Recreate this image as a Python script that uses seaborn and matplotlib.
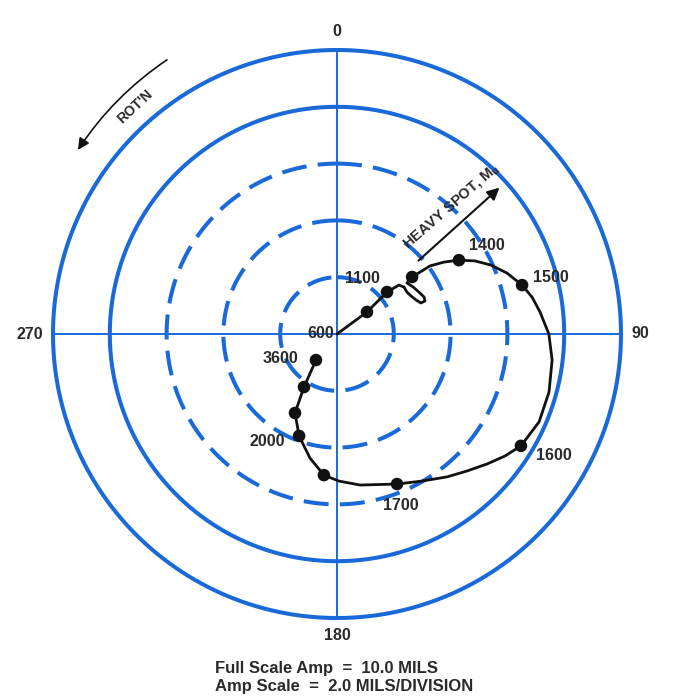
import numpy as np
import pandas as pd
import matplotlib
matplotlib.use("Agg")
import matplotlib.pyplot as plt
import seaborn as sns

# Rotor unbalance response: vibration vector (amplitude in mils, phase in degrees)
# traced from 600 rpm up to 3600 rpm.
trace_amp = [0.00, 1.31, 2.30, 2.78, 2.88, 2.87, 2.93, 3.03, 3.15, 3.31, 3.33,
             3.24, 3.15, 3.05, 3.32,
             4.06, 4.54, 5.02, 5.50, 5.94, 6.36, 6.74, 6.99, 7.19, 7.46, 7.63,
             7.74, 7.76, 7.58, 7.31, 6.99, 6.65, 6.35, 5.98, 5.69, 5.38, 5.18,
             4.99, 4.47, 3.83, 3.15, 2.20, 1.18]
trace_phase = [0.0, 53.7, 50.0, 51.7, 55.0, 59.0, 62.8, 66.7, 69.7, 69.4, 67.0,
               62.9, 58.3, 53.9, 52.8,
               53.8, 56.1, 58.8, 62.1, 65.9, 70.3, 75.2, 79.3, 83.8, 90.0, 96.9,
               105.3, 113.5, 121.3, 126.0, 130.9, 136.5, 142.4, 150.0, 158.2, 171.3, 179.2,
               185.3, 192.3, 200.4, 208.0, 211.9, 218.9]

# Speeds at which a reading was taken (dots)
marker_amp = [1.31, 2.30, 3.32, 5.02, 6.74, 7.58, 5.69, 4.99, 3.83, 3.15, 2.20, 1.18]
marker_phase = [53.7, 50.0, 52.8, 58.8, 75.2, 121.3, 158.2, 185.3, 200.4, 208.0, 211.9, 218.9]

# Speed annotations (rpm)
speed_labels = ["600", "1100", "1400", "1500", "1600", "1700", "2000", "3600"]
label_amp = [0.00, 2.30, 5.02, 6.74, 7.58, 5.69, 3.83, 1.18]
label_phase = [0.0, 50.0, 58.8, 75.2, 121.3, 158.2, 200.4, 218.9]

# Polar grid: amplitude rings (mils) and angle ticks (degrees)
ring_values = [2, 4, 6, 8, 10]
angle_ticks = [0, 90, 180, 270]
angle_tick_labels = ["0", "90", "180", "270"]

# Heavy spot direction (degrees)
heavy_spot_phase = 48.0

footer_lines = ["Full Scale Amp  =  10.0 MILS", "Amp Scale  =  2.0 MILS/DIVISION"]

# ---------------------------------------------------------------------------
sns.set_theme(style="white")
plt.rcParams["font.family"] = ["Liberation Sans", "DejaVu Sans"]

BLUE = "#1a69d9"
INK = "#111111"
TEXT = "#2a2a2a"

fig = plt.figure(figsize=(6.96, 6.97), dpi=100)
fig.patch.set_facecolor("white")
ax = fig.add_axes([53 / 696, 79 / 697, 568 / 696, 568 / 697], projection="polar")
ax.set_theta_zero_location("N")
ax.set_theta_direction(-1)
ax.grid(False)
ax.spines["polar"].set_visible(False)
ax.set_facecolor("white")

# amplitude rings: inner three dashed, outer two solid
theta_full = np.linspace(0, 2 * np.pi, 721)
for rv in ring_values:
    ls = (0, (6.2, 2.8)) if rv < 8 else "-"
    ax.plot(theta_full, np.full_like(theta_full, rv), color=BLUE,
            lw=2.9, ls=ls, solid_capstyle="butt", dash_capstyle="butt",
            clip_on=False, zorder=2)

# cross hairs
for a in angle_ticks:
    ax.plot([np.deg2rad(a), np.deg2rad(a)], [0, ring_values[-1]], color=BLUE,
            lw=1.4, clip_on=False, zorder=2)

# angle labels
rmax = ring_values[-1]
align = {0: ("center", "bottom", 10.38), 90: ("left", "center", 10.38),
         180: ("center", "top", 10.34), 270: ("right", "center", 10.34)}
for a, lab in zip(angle_ticks, angle_tick_labels):
    ha, va, rr = align[a]
    ax.text(np.deg2rad(a), rr, lab, ha=ha, va=va, fontsize=11.5,
            fontweight="bold", color=TEXT)

# response trace and measurement points
df_trace = pd.DataFrame({"theta": np.deg2rad(trace_phase), "amp": trace_amp})
df_pts = pd.DataFrame({"theta": np.deg2rad(marker_phase), "amp": marker_amp})
sns.lineplot(data=df_trace, x="theta", y="amp", sort=False, estimator=None,
             ax=ax, color=INK, lw=2.0, zorder=5)
sns.scatterplot(data=df_pts, x="theta", y="amp", ax=ax, color=INK, s=82,
                edgecolor="none", linewidth=0, zorder=6)

label_offsets_px = [(-16, 1), (-25, 14), (28, 15), (29, 8), (33, -10),
                    (4, -21), (-32, -6), (-36, 2)]
for lab, r, p, off in zip(speed_labels, label_amp, label_phase, label_offsets_px):
    ax.annotate(lab, xy=(np.deg2rad(p), r), xytext=off, textcoords="offset pixels",
                ha="center", va="center", fontsize=11.5, fontweight="bold",
                color=TEXT, zorder=7)

# heavy spot arrow
hs = np.deg2rad(heavy_spot_phase)
ax.annotate("", xy=(hs, 7.70), xytext=(hs, 3.86),
            arrowprops=dict(arrowstyle="-|>", color=INK, lw=1.5,
                            mutation_scale=18, shrinkA=0, shrinkB=0), zorder=7)
ax.text(np.deg2rad(42.0), 6.02, "HEAVY SPOT, M$_\\mathregular{u}$", rotation=41,
        ha="center", va="center", fontsize=10.5, fontweight="bold", color=TEXT,
        rotation_mode="anchor")

# direction of rotation
ax.annotate("", xy=(np.deg2rad(305.4), 11.19), xytext=(np.deg2rad(328.2), 11.36),
            arrowprops=dict(arrowstyle="-|>", color=INK, lw=1.2,
                            mutation_scale=17, shrinkA=0, shrinkB=0,
                            connectionstyle="arc3,rad=0.1"),
            annotation_clip=False)
ax.text(np.deg2rad(318.3), 10.72, "ROT'N", rotation=43, ha="center", va="center",
        fontsize=10, fontweight="bold", color=TEXT, rotation_mode="anchor")

ax.set_ylim(0, rmax)
ax.set_xticks([])
ax.set_yticks([])
ax.set_xlabel("")
ax.set_ylabel("")

fig.text(215 / 696, 1 - 668 / 697, footer_lines[0], ha="left", va="center",
         fontsize=12, fontweight="bold", color=TEXT)
fig.text(215 / 696, 1 - 687 / 697, footer_lines[1], ha="left", va="center",
         fontsize=12, fontweight="bold", color=TEXT)

fig.savefig("out.png", dpi=100, facecolor="white")
